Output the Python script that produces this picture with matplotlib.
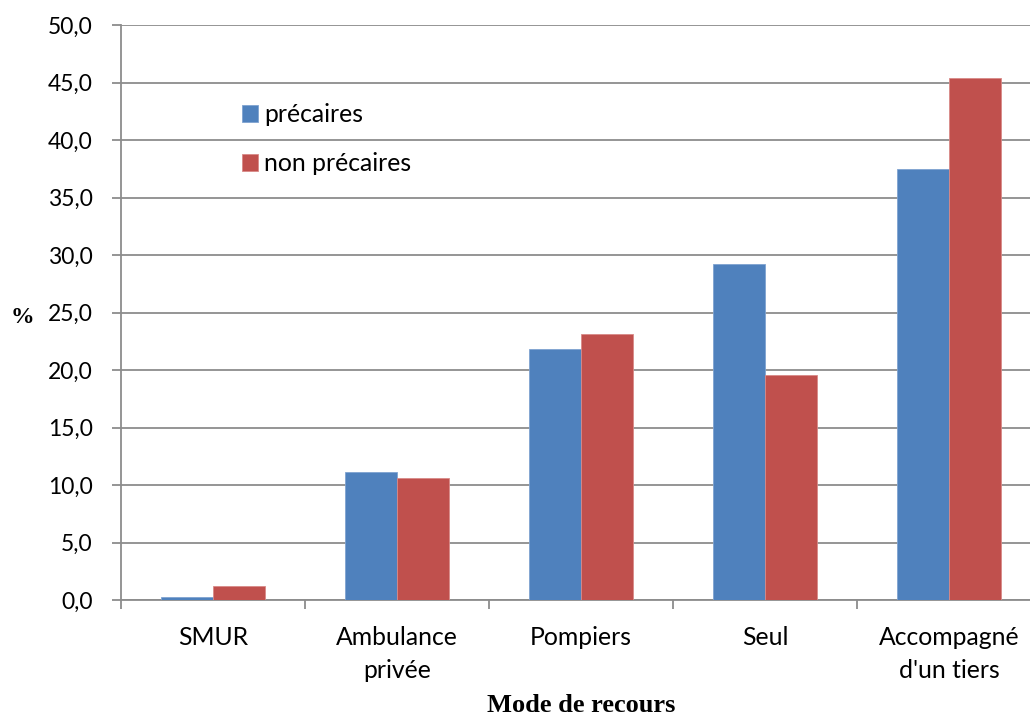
import matplotlib
matplotlib.use("Agg")
import matplotlib.pyplot as plt
from matplotlib.ticker import FuncFormatter, FixedLocator
import numpy as np

categories = ["SMUR", "Ambulance\nprivée", "Pompiers", "Seul", "Accompagné\nd'un tiers"]
precaires = [0.3, 11.1, 21.8, 29.2, 37.5]
non_precaires = [1.2, 10.6, 23.1, 19.6, 45.4]
series_names = ["précaires", "non précaires"]
y_ticks = [0, 5, 10, 15, 20, 25, 30, 35, 40, 45, 50]

W, H = 1030, 717
fig = plt.figure(figsize=(W/100, H/100), dpi=100)
ax = fig.add_axes([121/W, (H-600)/H, 1 - 121/W, (600-25)/H])

x = np.arange(len(categories))
bw = 0.283
blue = "#4F81BD"
red = "#C0504D"
ax.bar(x - bw/2, precaires, bw, color=blue, edgecolor="#7FA3D1", linewidth=0.6, label=series_names[0], zorder=3)
ax.bar(x + bw/2, non_precaires, bw, color=red, edgecolor="#D88A88", linewidth=0.6, label=series_names[1], zorder=3)

ax.set_xlim(-0.5, 4.44)
ax.set_ylim(0, 50)
ax.yaxis.set_major_locator(FixedLocator(y_ticks))
ax.yaxis.set_major_formatter(FuncFormatter(lambda v, p: f"{v:.1f}".replace(".", ",")))
ax.grid(axis="y", color="#8C8C8C", linewidth=1.3, zorder=0)
ax.set_axisbelow(True)

for s in ["top", "right"]:
    ax.spines[s].set_visible(False)
for s in ["left", "bottom"]:
    ax.spines[s].set_color("#8C8C8C")
    ax.spines[s].set_linewidth(1.3)

font = "Lato"
fs = 16.5
fsx = 17.8
ax.set_xticks(x)
ax.set_xticklabels(categories, fontsize=fsx, family=font, linespacing=1.5)
ax.tick_params(axis="x", length=0, pad=19)
ax.set_xticks(np.arange(-0.5, 4.5, 1.0), minor=True)
ax.tick_params(axis="x", which="minor", length=6.5, color="#8C8C8C", width=1.3, direction="out")
ax.tick_params(axis="y", length=6.5, color="#8C8C8C", width=1.3, direction="out", pad=14)
for t in ax.get_yticklabels():
    t.set_family(font)
    t.set_fontsize(fs)

fig.text(581/W, 1 - 706/H, "Mode de recours", ha="center", va="center",
         family="Liberation Serif", fontweight="bold", fontsize=19)
fig.text(22/W, 1 - 318/H, "%", ha="center", va="center",
         family="Liberation Serif", fontweight="bold", fontsize=17)

leg = ax.legend(loc="upper left", bbox_to_anchor=(242/W, 1 - 103/H), bbox_transform=fig.transFigure,
                frameon=False, handlelength=0.65, handleheight=0.65, handletextpad=0.26,
                labelspacing=1.05, borderpad=0, borderaxespad=0, prop={"family": font, "size": fsx})

fig.savefig("out.png", dpi=100)
